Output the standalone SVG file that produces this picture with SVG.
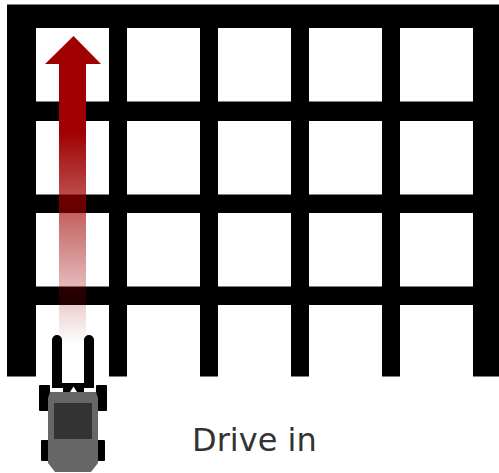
<svg xmlns="http://www.w3.org/2000/svg" width="499" height="473" viewBox="0 0 499 473">
<defs>
<linearGradient id="fade" gradientUnits="userSpaceOnUse" x1="0" y1="132" x2="0" y2="345">
<stop offset="0" stop-color="#a00000"/>
<stop offset="1" stop-color="#a00000" stop-opacity="0"/>
</linearGradient>
</defs>
<style>
.bar{fill:#000}
.cell{fill:#fff}
text{font-family:"DejaVu Sans",sans-serif;font-size:32px;fill:#333}
</style>
<rect width="499" height="473" fill="#fff"/>
<g id="racking">
<path class="bar" d="M7 4.500H499V376.500H473V305H400V376.500H382V305H309V376.500H291V305H218V376.500H200V305H127V376.500H109V305H36V376.500H7Z"/>
<g>
<rect class="cell" x="36" y="28" width="73" height="73.500"/><rect class="cell" x="127" y="28" width="73" height="73.500"/><rect class="cell" x="218" y="28" width="73" height="73.500"/><rect class="cell" x="309" y="28" width="73" height="73.500"/><rect class="cell" x="400" y="28" width="73" height="73.500"/>
<rect class="cell" x="36" y="121" width="73" height="73.500"/><rect class="cell" x="127" y="121" width="73" height="73.500"/><rect class="cell" x="218" y="121" width="73" height="73.500"/><rect class="cell" x="309" y="121" width="73" height="73.500"/><rect class="cell" x="400" y="121" width="73" height="73.500"/>
<rect class="cell" x="36" y="213" width="73" height="73.500"/><rect class="cell" x="127" y="213" width="73" height="73.500"/><rect class="cell" x="218" y="213" width="73" height="73.500"/><rect class="cell" x="309" y="213" width="73" height="73.500"/><rect class="cell" x="400" y="213" width="73" height="73.500"/>
</g>
</g>
<g id="connectors">
<path fill="url(#fade)" d="M73.500 36L101 64H86V345H59V64H45Z"/>
</g>
<g id="forklift">
<path d="M52 388V340A5 5 0 0 1 62 340V383H84V340A5 5 0 0 1 94 340V388H84V392H63V388Z"/>
<path fill="#fff" d="M73.500 386.500L77 392H70Z"/>
<rect x="39" y="385" width="11" height="26" rx="1"/>
<rect x="96" y="385" width="11" height="26" rx="1"/>
<rect x="41" y="440" width="8" height="21" rx="1"/>
<rect x="97" y="440" width="8" height="21" rx="1"/>
<path fill="#666" d="M50 392H96L98 398V463L91 472H55L48 463V398Z"/>
<rect x="54" y="403" width="38" height="36" fill="#333"/>
</g>
<g id="label"><text x="192" y="451">Drive in</text></g>
</svg>
